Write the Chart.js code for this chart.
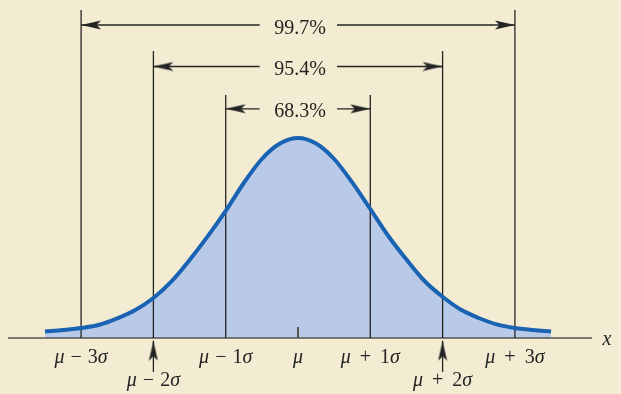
<!DOCTYPE html>
<html>
<head>
<meta charset="utf-8">
<script src="https://cdn.jsdelivr.net/npm/chart.js@4.4.0/dist/chart.umd.min.js"></script>
<style>
  html, body { margin: 0; padding: 0; background: #f3ecd2; }
  #wrap { width: 621px; height: 394px; }
</style>
</head>
<body>
<div id="wrap"><canvas id="chart"></canvas></div>
<script>
// x positions of the curve samples, in sigmas from the mean
const sigmaSteps = [-3.5, -3.25, -3, -2.75, -2.5, -2.25, -2, -1.75, -1.5, -1.25, -1, -0.75, -0.5, -0.25,
                    0, 0.25, 0.5, 0.75, 1, 1.25, 1.5, 1.75, 2, 2.25, 2.5, 2.75, 3, 3.25, 3.5];
// curve height, relative to the peak
const curveHeights = [0.032, 0.040, 0.050, 0.066, 0.098, 0.140, 0.200, 0.283, 0.390, 0.508, 0.636, 0.775, 0.895, 0.972,
                      1.000, 0.972, 0.895, 0.778, 0.645, 0.510, 0.392, 0.285, 0.206, 0.142, 0.100, 0.068, 0.050, 0.040, 0.033];
const bandSigmas = [1, 2, 3];
const bandLabels = ['68.3%', '95.4%', '99.7%'];
const tickSigmas = [-3, -2, -1, 0, 1, 2, 3];
const tickLabels = ['μ − 3σ', 'μ − 2σ', 'μ − 1σ', 'μ', 'μ + 1σ', 'μ + 2σ', 'μ + 3σ'];

// layout (chart units: 1 = peak height)
const arrowLevel = { 1: 1.146, 2: 1.3575, 3: 1.565 };
const lineTop = { 1: 1.215, 2: 1.435, 3: 1.64 };
const gapLeft = -0.53, gapRight = 0.54;

const INK = '#242424';
const FONT = '"Liberation Serif", "DejaVu Serif", serif';

function makeArrowHead() {
    const c = document.createElement('canvas');
    c.width = 42; c.height = 10;
    const g = c.getContext('2d');
    g.fillStyle = INK;
    g.beginPath();
    g.moveTo(21, 5);
    g.lineTo(1, 0.4);
    g.lineTo(5.5, 5);
    g.lineTo(1, 9.6);
    g.closePath();
    g.fill();
    return c;
}
const arrowHead = makeArrowHead();

const curveData = sigmaSteps.map((s, i) => ({ x: s, y: curveHeights[i] }));

const datasets = [];

// the curve itself, on top
datasets.push({
    data: curveData,
    borderColor: '#1a63b3',
    borderWidth: 4,
    pointRadius: 0,
    cubicInterpolationMode: 'monotone',
    fill: false,
    order: 0
});

// shaded area under the curve
datasets.push({
    data: curveData,
    borderWidth: 0,
    borderColor: 'rgba(0,0,0,0)',
    backgroundColor: '#b9c9e8',
    pointRadius: 0,
    cubicInterpolationMode: 'monotone',
    fill: 'origin',
    order: 20
});

// x axis line and tick at the mean
datasets.push({
    data: [{ x: -4.011, y: 0 }, { x: 4.066, y: 0 }],
    borderColor: '#555',
    borderWidth: 1.5,
    pointRadius: 0,
    order: 6
});
datasets.push({
    data: [{ x: 0, y: 0 }, { x: 0, y: 0.055 }],
    borderColor: '#555',
    borderWidth: 2,
    pointRadius: 0,
    order: 6
});

// vertical lines at mu +/- k sigma and the percentage arrows between them
bandSigmas.forEach(k => {
    [-1, 1].forEach(sign => {
        datasets.push({
            data: [{ x: sign * k, y: 0 }, { x: sign * k, y: lineTop[k] }],
            borderColor: INK,
            borderWidth: 1.3,
            pointRadius: 0,
            order: 4
        });
    });
    const lv = arrowLevel[k];
    datasets.push({
        data: [{ x: -k, y: lv }, { x: gapLeft, y: lv }, { x: 0, y: null }, { x: gapRight, y: lv }, { x: k, y: lv }],
        borderColor: INK,
        borderWidth: 1.3,
        spanGaps: false,
        pointStyle: arrowHead,
        pointRadius: [5, 0, 0, 0, 5],
        pointRotation: [180, 0, 0, 0, 0],
        order: 3
    });
});

// little up arrows pointing at mu +/- 2 sigma from below
[-2, 2].forEach(s => {
    datasets.push({
        data: [{ x: s, y: -0.014 }, { x: s, y: -0.17 }],
        borderColor: INK,
        borderWidth: 1.3,
        pointStyle: arrowHead,
        pointRadius: [5, 0],
        pointRotation: [-90, 0],
        order: 3
    });
});

// draws text with mu, sigma and x in italics
function drawMath(ctx, text, cx, baseline) {
    const parts = text.split('');
    const widths = parts.map((ch, i) => {
        if (ch === ' ') {
            const near = parts[i - 1] === '+' || parts[i + 1] === '+';
            return near ? 9 : 6;
        }
        ctx.font = (/[μσx]/.test(ch) ? 'italic ' : '') + '20px ' + FONT;
        return ctx.measureText(ch).width;
    });
    const total = widths.reduce((a, b) => a + b, 0);
    let px = cx - total / 2;
    ctx.textAlign = 'left';
    parts.forEach((ch, i) => {
        if (ch !== ' ') {
            ctx.font = (/[μσx]/.test(ch) ? 'italic ' : '') + '20px ' + FONT;
            ctx.fillText(ch, px, baseline);
        }
        px += widths[i];
    });
}

const labelPlugin = {
    id: 'labels',
    afterDatasetsDraw(chart) {
        const { ctx, scales: { x, y } } = chart;
        const y0 = y.getPixelForValue(0);
        ctx.save();
        ctx.fillStyle = INK;
        ctx.textBaseline = 'alphabetic';

        // percentages
        ctx.font = '20px ' + FONT;
        ctx.textAlign = 'center';
        bandSigmas.forEach((k, i) => {
            ctx.fillText(bandLabels[i], x.getPixelForValue(0.03), y.getPixelForValue(arrowLevel[k]) + 8.5);
        });

        // tick labels, +/-2 sigma on a second row
        tickSigmas.forEach((s, i) => {
            const base = Math.abs(s) === 2 ? y0 + 48 : y0 + 24.5;
            drawMath(ctx, tickLabels[i], x.getPixelForValue(s), base);
        });

        drawMath(ctx, 'x', 607, y0 + 6.5);
        ctx.restore();
    }
};

new Chart(document.getElementById('chart'), {
    type: 'line',
    data: { datasets: datasets },
    options: {
        responsive: true,
        maintainAspectRatio: false,
        animation: false,
        events: [],
        layout: { padding: 0, autoPadding: false },
        scales: {
            x: { type: 'linear', min: -298 / 72.3, max: 323 / 72.3, display: false },
            y: { min: -0.28, max: 1.69, display: false }
        },
        plugins: {
            legend: { display: false },
            tooltip: { enabled: false },
            filler: { drawTime: 'beforeDatasetsDraw' }
        }
    },
    plugins: [labelPlugin]
});
</script>
</body>
</html>
